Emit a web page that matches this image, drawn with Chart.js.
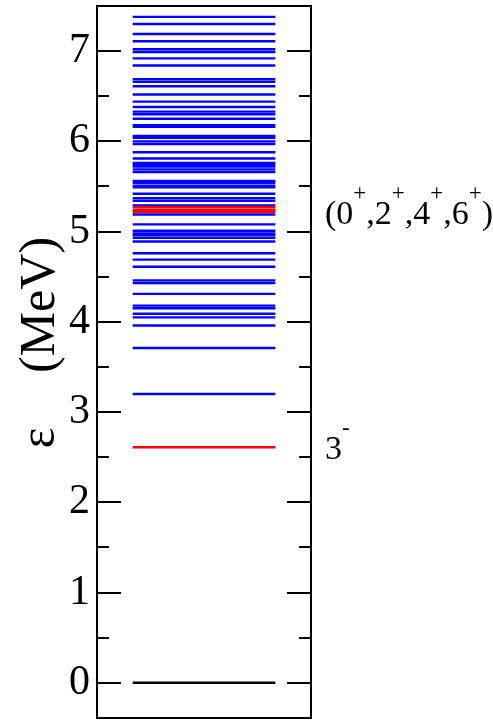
<!DOCTYPE html>
<html>
<head>
<meta charset="utf-8">
<script src="https://cdn.jsdelivr.net/npm/chart.js@4/dist/chart.umd.min.js"></script>
<style>
  html, body { margin: 0; padding: 0; background: #ffffff; }
  #c { display: block; }
</style>
</head>
<body>
<canvas id="c" width="493" height="720"></canvas>
<script>
// ---- data (MeV) ----
const blueLevels = [7.38, 7.30, 7.19, 7.11, 7.02, 6.99, 6.92, 6.84, 6.69, 6.66, 6.61, 6.52, 6.44, 6.38,
  6.33, 6.30, 6.25, 6.18, 6.16, 6.06, 6.04, 6.00, 5.97, 5.88, 5.81, 5.76, 5.74, 5.72, 5.69, 5.66,
  5.56, 5.54, 5.51, 5.49, 5.42, 5.37, 5.34, 5.29, 5.19, 5.08, 5.01, 4.98, 4.96, 4.93, 4.89,
  4.76, 4.69, 4.61, 4.46, 4.43, 4.31, 4.18, 4.15, 4.09, 4.05, 3.96, 3.71, 3.20];
const redLevels = [2.61, 5.22, 5.24, 5.27];
const groundLevels = [0];
const levelStart = 1;
const levelEnd = 5;
const majorTicks = [0, 1, 2, 3, 4, 5, 6, 7];
const minorTicks = [0.5, 1.5, 2.5, 3.5, 4.5, 5.5, 6.5, 7.5];
const tickLabels = ['0', '1', '2', '3', '4', '5', '6', '7'];
const yMin = -0.39, yMax = 7.5;
const axisTitleSymbol = 'ε';
const axisTitleUnit = '(MeV)';
const annotations = [
  { level: 5.22, parts: [['(0', false], ['+', true], [',2', false], ['+', true], [',4', false], ['+', true], [',6', false], ['+', true], [')', false]] },
  { level: 2.61, parts: [['3', false], ['-', true]] }
];

const SERIF = '"Liberation Serif", "Times New Roman", Times, serif';

function levelDataset(e, color, order) {
  return {
    data: [{ x: levelStart, y: e }, { x: levelEnd, y: e }],
    borderColor: color,
    borderWidth: 2.4,
    pointRadius: 0,
    fill: false,
    tension: 0,
    order: order
  };
}

const datasets = []
  .concat(blueLevels.map(e => levelDataset(e, '#0000ff', 2)))
  .concat(redLevels.map(e => levelDataset(e, '#ff0000', 1)))
  .concat(groundLevels.map(e => levelDataset(e, '#000000', 0)));

const decor = {
  id: 'decor',
  afterDraw(chart) {
    const ctx = chart.ctx;
    const a = chart.chartArea;
    const ys = chart.scales.y;
    ctx.save();
    ctx.strokeStyle = '#000';
    ctx.lineWidth = 2;
    // frame
    ctx.strokeRect(a.left, a.top, a.right - a.left, a.bottom - a.top);
    // inward ticks
    ctx.beginPath();
    majorTicks.forEach(v => {
      const y = Math.round(ys.getPixelForValue(v));
      ctx.moveTo(a.left, y); ctx.lineTo(a.left + 24, y);
      ctx.moveTo(a.right - 24, y); ctx.lineTo(a.right, y);
    });
    minorTicks.forEach(v => {
      const y = Math.round(ys.getPixelForValue(v));
      ctx.moveTo(a.left, y); ctx.lineTo(a.left + 12, y);
      ctx.moveTo(a.right - 12, y); ctx.lineTo(a.right, y);
    });
    ctx.stroke();

    // axis title (rotated)
    ctx.fillStyle = '#000';
    ctx.textBaseline = 'alphabetic';
    ctx.textAlign = 'center';
    ctx.font = '50px ' + SERIF;
    ctx.save();
    ctx.translate(54, 438);
    ctx.rotate(-Math.PI / 2);
    ctx.fillText(axisTitleSymbol, 0, 0);
    ctx.restore();
    ctx.save();
    ctx.translate(54, 305);
    ctx.rotate(-Math.PI / 2);
    ctx.fillText(axisTitleUnit, 0, 0);
    ctx.restore();

    // level annotations
    ctx.textAlign = 'left';
    annotations.forEach(an => {
      let x = 325;
      const base = ys.getPixelForValue(an.level) + 12;
      an.parts.forEach(([t, sup]) => {
        ctx.font = (sup ? '23px ' : '34px ') + SERIF;
        const yy = sup ? base - 24 : base;
        ctx.fillText(t, x, yy);
        x += ctx.measureText(t).width;
      });
    });
    ctx.restore();
  }
};

new Chart(document.getElementById('c'), {
  type: 'line',
  data: { datasets: datasets },
  options: {
    responsive: false,
    animation: false,
    events: [],
    layout: { padding: { left: 0, top: 6, right: 182, bottom: 2 } },
    plugins: { legend: { display: false }, tooltip: { enabled: false } },
    scales: {
      x: { type: 'linear', min: 0, max: 6, display: false },
      y: {
        type: 'linear',
        min: yMin,
        max: yMax,
        afterBuildTicks(scale) {
          const vals = [yMin].concat(majorTicks).concat([yMax]);
          scale.ticks = vals.map(v => ({ value: v }));
        },
        afterFit(scale) {
          scale.width = 97;
          scale.paddingTop = 0;
          scale.paddingBottom = 0;
        },
        grid: { display: false, drawTicks: false },
        border: { display: false },
        ticks: {
          padding: 7,
          color: '#000',
          font: { family: SERIF, size: 42 },
          callback(v) {
            const i = majorTicks.indexOf(v);
            return i >= 0 ? tickLabels[i] : null;
          }
        }
      }
    }
  },
  plugins: [decor]
});
</script>
</body>
</html>
